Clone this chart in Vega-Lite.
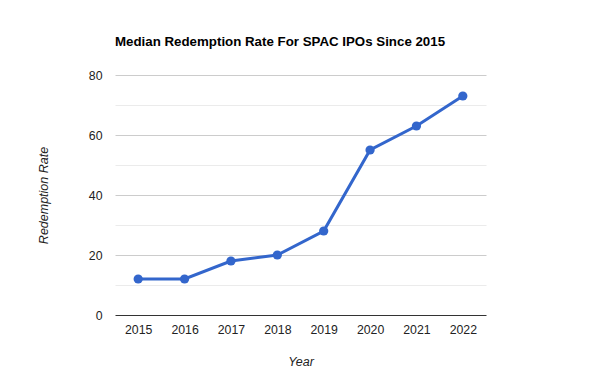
{
  "$schema": "https://vega.github.io/schema/vega-lite/v6.json",
  "width": 371,
  "height": 240,
  "autosize": {"type": "none"},
  "padding": {"left": 115, "top": 75, "right": 114, "bottom": 75},
  "background": "#ffffff",
  "config": {
    "font": "Liberation Sans",
    "view": {"stroke": null}
  },
  "title": {
    "text": "Median Redemption Rate For SPAC IPOs Since 2015",
    "anchor": "start",
    "frame": "group",
    "font": "Liberation Sans",
    "fontSize": 13.3,
    "fontWeight": "bold",
    "color": "#000000",
    "offset": 21
  },
  "data": {
    "values": [
      {"Year": "2015", "Rate": 12},
      {"Year": "2016", "Rate": 12},
      {"Year": "2017", "Rate": 18},
      {"Year": "2018", "Rate": 20},
      {"Year": "2019", "Rate": 28},
      {"Year": "2020", "Rate": 55},
      {"Year": "2021", "Rate": 63},
      {"Year": "2022", "Rate": 73}
    ]
  },
  "encoding": {
    "x": {
      "field": "Year",
      "type": "ordinal",
      "scale": {"type": "point", "padding": 0.5},
      "axis": {
        "title": "Year",
        "titleFontStyle": "italic",
        "titleFontWeight": "normal",
        "titleFontSize": 12.5,
        "titleColor": "#222222",
        "titlePadding": 20,
        "labelAngle": 0,
        "labelFontSize": 12.3,
        "labelColor": "#222222",
        "labelPadding": 8,
        "ticks": false,
        "domain": false,
        "grid": false
      }
    },
    "y": {
      "field": "Rate",
      "type": "quantitative",
      "scale": {"domain": [0, 80], "nice": false},
      "axis": {
        "title": "Redemption Rate",
        "titleFontStyle": "italic",
        "titleFontWeight": "normal",
        "titleFontSize": 12.5,
        "titleColor": "#222222",
        "titlePadding": 38,
        "values": [0, 10, 20, 30, 40, 50, 60, 70, 80],
        "labelExpr": "datum.value % 20 === 0 ? datum.label : ''",
        "labelFontSize": 12.3,
        "labelColor": "#222222",
        "labelPadding": 13,
        "ticks": false,
        "domain": false,
        "grid": true,
        "gridColor": {
          "condition": [
            {"test": "datum.value === 0", "value": "#333333"},
            {"test": "datum.value % 20 === 0", "value": "#cccccc"}
          ],
          "value": "#ebebeb"
        },
        "gridWidth": 1
      }
    }
  },
  "layer": [
    {
      "mark": {"type": "line", "color": "#3366cc", "strokeWidth": 3}
    },
    {
      "mark": {"type": "point", "filled": true, "color": "#3366cc", "size": 85, "opacity": 1}
    }
  ]
}
